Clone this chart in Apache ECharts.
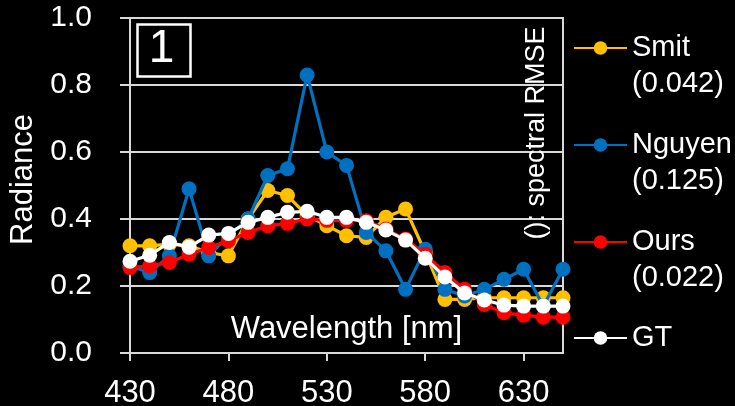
<!DOCTYPE html>
<html>
<head>
<meta charset="utf-8">
<script src="https://cdn.jsdelivr.net/npm/echarts@6/dist/echarts.min.js"></script>
<style>
html,body{margin:0;padding:0;background:#000;}
#chart{width:735px;height:406px;}
</style>
</head>
<body>
<div id="chart"></div>
<script>
const wavelengths = [430,440,450,460,470,480,490,500,510,520,530,540,550,560,570,580,590,600,610,620,630,640,650];
const smit   = [0.32,0.32,0.325,0.32,0.30,0.29,0.40,0.485,0.47,0.41,0.38,0.35,0.345,0.405,0.43,0.30,0.16,0.16,0.165,0.165,0.165,0.165,0.165];
const nguyen = [0.26,0.24,0.29,0.49,0.29,0.35,0.40,0.53,0.55,0.83,0.60,0.56,0.36,0.305,0.19,0.31,0.19,0.17,0.19,0.22,0.25,0.14,0.25];
const ours   = [0.255,0.26,0.27,0.295,0.315,0.335,0.36,0.38,0.387,0.40,0.396,0.396,0.395,0.37,0.34,0.295,0.24,0.19,0.145,0.12,0.113,0.107,0.107];
const gt     = [0.274,0.292,0.33,0.316,0.352,0.357,0.39,0.405,0.42,0.423,0.405,0.405,0.39,0.367,0.337,0.283,0.227,0.179,0.158,0.143,0.14,0.14,0.14];
const seriesNames = ['Smit','Nguyen','Ours','GT'];
const rmse = ['(0.042)','(0.125)','(0.022)',''];
const colors = ['#FFC000','#0070C0','#FF0000','#FFFFFF'];

const FONT = 'Liberation Sans, Arial, sans-serif';
const chart = echarts.init(document.getElementById('chart'), null, {renderer:'canvas'});
const allData = [smit, nguyen, ours, gt];
const legendCenters = [48, 145, 242, 338];
const LH = 36;

const series = seriesNames.map((n,i)=>({
  name: n,
  type: 'line',
  data: wavelengths.map((w,j)=>[w, allData[i][j]]),
  symbol: 'circle',
  symbolSize: 15,
  lineStyle: {color: colors[i], width: 3.2},
  itemStyle: {color: colors[i]},
  z: 2 + i,
  animation: false
}));

const legends = seriesNames.map((n,i)=>({
  data: [n],
  orient: 'vertical',
  left: 573,
  top: legendCenters[i] - 1.5*LH,
  padding: 0,
  itemWidth: 53,
  itemHeight: 17,
  itemGap: 0,
  formatter: function(name){ return '\n' + name + '\n' + rmse[i]; },
  textStyle: {color:'#fff', fontSize: 29, fontFamily: FONT, lineHeight: LH},
  selectedMode: false
}));

const option = {
  backgroundColor: '#000',
  animation: false,
  textStyle: {fontFamily: FONT},
  grid: {left: 130, right: 172, top: 18, bottom: 53, show: true, borderColor: '#d9d9d9', borderWidth: 2, containLabel: false, outerBoundsMode: 'none'},
  legend: legends,
  xAxis: {
    type: 'value', min: 430, max: 650, interval: 50,
    name: 'Wavelength [nm]', nameLocation: 'middle', nameGap: -24,
    nameTextStyle: {color:'#fff', fontSize: 31, fontFamily: FONT, verticalAlign: 'middle'},
    axisLine: {show: true, lineStyle: {color:'#d9d9d9', width: 2}},
    axisTick: {show: true, length: 8, lineStyle: {color:'#d9d9d9', width: 2}},
    axisLabel: {color:'#fff', fontSize: 31, fontFamily: FONT, margin: 25, showMaxLabel: false},
    splitLine: {show: false}
  },
  yAxis: {
    type: 'value', min: 0, max: 1, interval: 0.2,
    name: 'Radiance', nameLocation: 'middle', nameGap: 86, nameRotate: 90,
    nameTextStyle: {color:'#fff', fontSize: 31, fontFamily: FONT, padding: [0,0,0,12]},
    axisLine: {show: true, lineStyle: {color:'#d9d9d9', width: 2}},
    axisTick: {show: true, length: 10, lineStyle: {color:'#d9d9d9', width: 2}},
    axisLabel: {color:'#fff', fontSize: 30, fontFamily: FONT, margin: 38, formatter: v => v.toFixed(1)},
    splitLine: {show: true, lineStyle: {color:'#d9d9d9', width: 2}}
  },
  graphic: [
    {type:'rect', left: 135, top: 22, shape:{width: 53, height: 52}, style:{fill:'none', stroke:'#fff', lineWidth: 2.5}, z: 10},
    {type:'text', x: 161.5, y: 49, style:{text:'1', fill:'#fff', font: '46px ' + FONT, align:'center', verticalAlign:'middle'}, z: 10},
    {type:'text', x: 537, y: 133, rotation: Math.PI/2, style:{text:'(): spectral RMSE', fill:'#fff', font:'27px ' + FONT, align:'center', verticalAlign:'middle'}, z: 10}
  ],
  series: series
};
chart.setOption(option);
</script>
</body>
</html>
